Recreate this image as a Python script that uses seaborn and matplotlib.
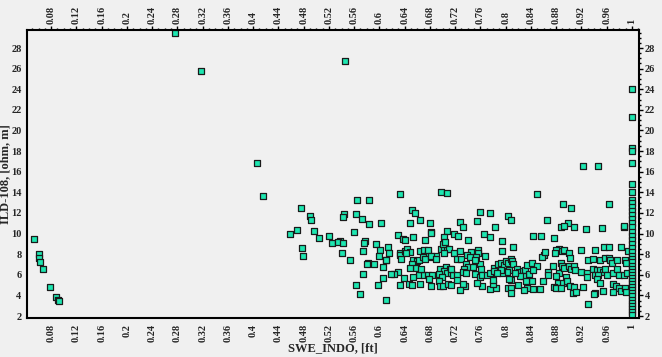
import numpy as np
import pandas as pd
import seaborn as sns
import matplotlib.pyplot as plt
from matplotlib.ticker import MultipleLocator, FuncFormatter

# outliers / sparse points
swe_sparse = [0.053, 0.061, 0.061, 0.062, 0.067, 0.078, 0.087, 0.091, 0.092,
              0.276, 0.317, 0.406, 0.416, 0.545, 0.922, 0.947]
ild_sparse = [9.5, 8.0, 7.6, 7.2, 6.56, 4.8, 3.85, 3.6, 3.45,
              29.5, 25.8, 16.85, 13.65, 26.75, 16.55, 16.55]

# cloud 0.45 - 0.59
swe_a = [0.476, 0.490, 0.492, 0.458, 0.470, 0.497, 0.505, 0.520, 0.478, 0.479,
         0.525, 0.538, 0.535, 0.543, 0.541, 0.553, 0.565, 0.584, 0.544, 0.542,
         0.563, 0.573, 0.583, 0.560, 0.578, 0.576, 0.574, 0.582, 0.581, 0.574,
         0.563, 0.570]
ild_a = [12.5, 11.7, 11.3, 10.0, 10.3, 10.25, 9.55, 9.8, 8.6, 7.8,
         9.1, 9.3, 9.2, 9.1, 8.1, 7.45, 13.3, 13.3, 11.9, 11.6,
         11.9, 11.45, 10.9, 10.2, 9.25, 9.1, 8.35, 7.1, 7.0, 6.05,
         5.0, 4.1]

# cloud 0.59 - 0.73
swe_b = [0.602, 0.632, 0.697, 0.707, 0.652, 0.657, 0.649, 0.664, 0.680, 0.682,
         0.681, 0.630, 0.638, 0.640, 0.653, 0.672, 0.707, 0.702, 0.718, 0.725,
         0.595, 0.601, 0.613, 0.615, 0.600, 0.610, 0.611, 0.592, 0.606, 0.632,
         0.633, 0.635, 0.640, 0.644, 0.648, 0.642, 0.664, 0.671, 0.677, 0.677,
         0.684, 0.689, 0.697, 0.702, 0.707, 0.711, 0.703, 0.700, 0.704, 0.718,
         0.723, 0.654, 0.660, 0.663, 0.669, 0.672, 0.652, 0.658, 0.649, 0.681,
         0.690, 0.696, 0.705, 0.712, 0.702, 0.707, 0.714, 0.717, 0.723, 0.713,
         0.695, 0.699, 0.694, 0.696, 0.701, 0.709, 0.714, 0.723, 0.663, 0.670,
         0.677, 0.684, 0.678, 0.681, 0.664, 0.654, 0.639, 0.647, 0.652, 0.633,
         0.630, 0.623, 0.618, 0.605, 0.598, 0.610, 0.666]
ild_b = [11.0, 13.85, 14.05, 13.9, 12.3, 11.95, 11.05, 11.3, 11.0, 10.15,
         10.05, 9.85, 9.45, 9.35, 9.65, 9.4, 10.25, 9.65, 9.95, 9.75,
         8.95, 8.4, 8.65, 8.1, 7.85, 7.45, 7.45, 7.05, 6.75, 8.1,
         7.9, 7.5, 8.35, 8.55, 8.25, 8.1, 8.3, 8.4, 8.0, 8.4,
         7.75, 7.85, 8.55, 8.55, 8.55, 8.55, 8.1, 9.0, 9.2, 8.1,
         7.55, 7.45, 7.35, 7.45, 7.75, 7.55, 7.05, 6.7, 6.7, 7.8,
         7.55, 6.6, 6.8, 6.6, 6.35, 6.2, 6.2, 6.0, 6.0, 6.55,
         6.1, 5.8, 5.35, 4.9, 4.9, 5.1, 5.0, 5.5, 6.0, 6.0,
         6.0, 6.0, 5.55, 4.9, 5.15, 5.75, 5.7, 5.15, 5.0, 5.05,
         6.25, 6.1, 6.1, 5.65, 5.0, 3.6, 6.6]

# cloud 0.73 - 0.87
swe_c = [0.850, 0.759, 0.776, 0.755, 0.804, 0.808, 0.727, 0.733, 0.783, 0.765,
         0.775, 0.741, 0.795, 0.844, 0.856, 0.865, 0.811, 0.794, 0.727, 0.745,
         0.756, 0.756, 0.739, 0.743, 0.753, 0.768, 0.730, 0.737, 0.741, 0.749,
         0.759, 0.761, 0.734, 0.733, 0.738, 0.751, 0.760, 0.762, 0.771, 0.775,
         0.782, 0.782, 0.788, 0.793, 0.797, 0.801, 0.803, 0.808, 0.810, 0.811,
         0.818, 0.821, 0.827, 0.830, 0.834, 0.841, 0.849, 0.837, 0.843, 0.827,
         0.822, 0.815, 0.805, 0.802, 0.794, 0.792, 0.786, 0.860, 0.858, 0.862,
         0.867, 0.867, 0.859, 0.854, 0.844, 0.834, 0.829, 0.842, 0.833, 0.820,
         0.809, 0.805, 0.804, 0.808, 0.809, 0.784, 0.776, 0.780, 0.780, 0.763,
         0.755, 0.735, 0.732, 0.727, 0.751]
ild_c = [13.85, 12.05, 12.0, 11.2, 11.75, 11.3, 11.1, 10.6, 10.6, 10.0,
         9.65, 9.4, 9.3, 9.75, 9.75, 11.3, 8.65, 8.35, 8.35, 8.25,
         8.4, 8.1, 7.9, 7.7, 7.75, 7.8, 7.5, 7.05, 6.8, 6.8,
         7.0, 6.6, 6.6, 6.25, 6.15, 6.05, 5.8, 6.0, 6.0, 6.15,
         6.7, 6.4, 7.0, 7.1, 6.95, 7.35, 7.1, 7.5, 7.3, 7.0,
         6.6, 6.3, 6.35, 6.45, 6.95, 7.15, 6.9, 6.05, 6.45, 5.9,
         5.9, 6.15, 6.45, 6.25, 6.15, 6.45, 6.15, 7.9, 7.7, 8.25,
         6.3, 6.0, 5.35, 4.6, 4.6, 4.7, 4.5, 5.35, 5.35, 5.0,
         5.45, 5.6, 4.75, 4.7, 4.2, 4.7, 4.6, 5.1, 5.5, 4.9,
         5.25, 4.9, 5.15, 4.5, 7.4]

# cloud 0.87 - 0.995
swe_d = [0.891, 0.904, 0.963, 0.899, 0.888, 0.892, 0.909, 0.928, 0.952, 0.988,
         0.988, 0.877, 0.885, 0.889, 0.893, 0.880, 0.919, 0.942, 0.956, 0.963,
         0.983, 0.994, 0.878, 0.900, 0.902, 0.875, 0.888, 0.889, 0.884, 0.892,
         0.900, 0.904, 0.909, 0.910, 0.919, 0.929, 0.930, 0.939, 0.950, 0.957,
         0.963, 0.965, 0.969, 0.976, 0.989, 0.990, 0.939, 0.945, 0.950, 0.955,
         0.957, 0.960, 0.970, 0.976, 0.980, 0.987, 0.992, 0.941, 0.947, 0.944,
         0.950, 0.929, 0.880, 0.883, 0.891, 0.896, 0.898, 0.902, 0.909, 0.923,
         0.906, 0.911, 0.876, 0.880, 0.887, 0.942, 0.940, 0.954, 0.970, 0.975,
         0.979, 0.983, 0.989, 0.991, 0.930, 0.970]
ild_d = [12.85, 12.45, 12.85, 11.05, 10.6, 10.7, 10.6, 10.4, 10.5, 10.6,
         10.7, 9.6, 8.55, 8.35, 8.45, 8.4, 8.4, 8.45, 8.7, 8.7,
         8.7, 8.35, 8.1, 8.1, 7.6, 6.85, 7.15, 6.85, 6.15, 6.7,
         6.85, 6.6, 6.85, 6.5, 6.3, 6.15, 7.45, 7.5, 7.45, 7.65,
         7.65, 7.45, 7.15, 7.45, 7.45, 7.1, 6.6, 6.5, 6.45, 6.3,
         6.6, 6.0, 6.2, 6.6, 6.0, 6.0, 6.15, 6.0, 6.0, 5.55,
         5.25, 5.8, 5.9, 5.25, 5.25, 5.75, 5.35, 4.9, 4.85, 4.85,
         4.2, 4.35, 4.8, 4.7, 4.7, 4.2, 4.1, 4.45, 5.1, 4.9,
         4.7, 4.45, 4.7, 4.35, 3.15, 4.35]

# column at SWE = 1
ild_full = [24.0, 21.3, 18.3, 18.0, 16.85, 14.8, 14.0, 13.3, 13.0, 12.6,
            12.2, 11.8, 11.4, 11.0, 10.6, 10.2, 9.8, 9.4, 9.0, 8.6,
            8.2, 7.8, 7.5, 7.2, 6.9, 6.6, 6.3, 6.0, 5.7, 5.4,
            5.1, 4.8, 4.5, 4.2, 3.9, 3.6, 3.3, 3.0, 2.7, 2.4, 2.1]
swe_full = [1.0] * len(ild_full)

df = pd.DataFrame({
    "swe": swe_sparse + swe_a + swe_b + swe_c + swe_d + swe_full,
    "ild": ild_sparse + ild_a + ild_b + ild_c + ild_d + ild_full,
})

sns.set_style("white")
plt.rcParams["font.family"] = ["Liberation Serif", "DejaVu Serif"]
plt.rcParams["font.weight"] = "bold"

bg = "#f0f0f0"
fig = plt.figure(figsize=(6.62, 3.57), dpi=100, facecolor=bg)
ax = fig.add_axes([0.041, 0.109, 0.924, 0.807])
ax.set_facecolor(bg)

sns.scatterplot(data=df, x="swe", y="ild", marker="s", s=24,
                color="#1de6b0", edgecolor="#1a1a1a", linewidth=0.9, ax=ax)

ax.set_xlim(0.042, 1.011)
ax.set_ylim(1.8, 29.75)

fmt = FuncFormatter(lambda v, p: f"{round(v, 4):g}")
ax.xaxis.set_major_locator(MultipleLocator(0.04))
ax.xaxis.set_minor_locator(MultipleLocator(0.01))
ax.xaxis.set_major_formatter(fmt)
ax.yaxis.set_major_locator(MultipleLocator(2))
ax.yaxis.set_minor_locator(MultipleLocator(0.5))
ax.yaxis.set_major_formatter(fmt)

ax.tick_params(which="both", direction="out", top=True, right=True,
               labeltop=True, labelright=True, color="black", width=1)
ax.tick_params(which="major", length=3, labelsize=7.5, pad=1)
ax.tick_params(which="minor", length=1.5)
ax.tick_params(axis="x", labelrotation=90)
for sp in ax.spines.values():
    sp.set_color("black")
    sp.set_linewidth(1.5)

ax.set_xlabel("SWE_INDO, [ft]", fontsize=9, fontweight="bold", labelpad=0)
ax.set_ylabel("ILD-108, [ohm, m]", fontsize=9, fontweight="bold", labelpad=0)

fig.savefig("out.png", dpi=100, facecolor=bg)
